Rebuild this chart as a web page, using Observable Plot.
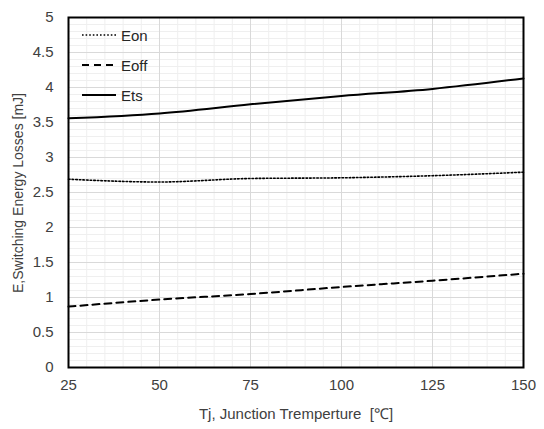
<!DOCTYPE html>
<html><head><meta charset="utf-8">
<script src="https://cdn.jsdelivr.net/npm/d3@7"></script>
<script src="https://cdn.jsdelivr.net/npm/@observablehq/plot@0.6"></script>
<style>
body{margin:0;background:#fff;font-family:"Liberation Sans",Arial,sans-serif}
#wrap{position:relative;width:544px;height:429px}
#legend{position:absolute;left:82px;top:20px;font-size:15px;color:#262626}
#legend .item{display:flex;align-items:center;height:30px}
#legend svg{margin-right:5px}
#ylabel{position:absolute;left:18px;top:193px;transform:translate(-50%,-50%) rotate(-90deg);white-space:nowrap;font-size:14px;color:#404040}
</style></head><body>
<div id="wrap"><div id="chart"></div><div id="legend"></div><div id="ylabel"></div></div>
<script>
const tj   = [25, 50, 75, 100, 125, 150];
const eon  = [2.69, 2.65, 2.70, 2.71, 2.74, 2.79];
const eoff = [0.87, 0.97, 1.05, 1.15, 1.24, 1.34];
const ets  = [3.56, 3.63, 3.76, 3.88, 3.98, 4.13];
const seriesNames = ["Eon", "Eoff", "Ets"];
const xTicks = [25, 50, 75, 100, 125, 150];
const yTicks = [0, 0.5, 1, 1.5, 2, 2.5, 3, 3.5, 4, 4.5, 5];
const xMinor = d3.range(25, 151, 5);
const yMinor = d3.range(0, 51).map(d => d / 10);
const xTitle = "Tj, Junction Tremperture  [℃]";
const yTitle = "E,Switching Energy Losses [mJ]";

const styles = {
  Eon:  {strokeWidth: 1.6, dash: "1.6,2"},
  Eoff: {strokeWidth: 2,   dash: "7,5"},
  Ets:  {strokeWidth: 2,   dash: null}
};
const values = {Eon: eon, Eoff: eoff, Ets: ets};
const rows = seriesNames.flatMap(s => tj.map((t, i) => ({s, t, v: values[s][i]})));

const lineMarks = seriesNames.map(s => Plot.line(rows.filter(r => r.s === s), {
  x: "t", y: "v", stroke: "#000", strokeWidth: styles[s].strokeWidth,
  strokeDasharray: styles[s].dash, curve: "monotone-x"
}));

const chart = Plot.plot({
  width: 544, height: 429,
  marginLeft: 68, marginRight: 21, marginTop: 17, marginBottom: 62,
  style: {fontFamily: "Liberation Sans, Arial, sans-serif", fontSize: "15px", color: "#404040", background: "#fff"},
  x: {domain: [25, 150], ticks: xTicks, tickSize: 0, tickPadding: 12, label: xTitle, labelArrow: "none", labelAnchor: "center", labelOffset: 51},
  y: {domain: [0, 5], ticks: yTicks, tickSize: 0, tickPadding: 15, label: null, tickFormat: d => String(d)},
  marks: [
    Plot.ruleX(xMinor, {stroke: "#efefef", strokeWidth: 1}),
    Plot.ruleY(yMinor, {stroke: "#efefef", strokeWidth: 1}),
    Plot.ruleX(xTicks, {stroke: "#d9d9d9", strokeWidth: 1}),
    Plot.ruleY(yTicks, {stroke: "#d9d9d9", strokeWidth: 1}),
    ...lineMarks,
    Plot.frame({stroke: "#000", strokeWidth: 2})
  ]
});
document.getElementById("chart").appendChild(chart);
document.getElementById("ylabel").textContent = yTitle;

const legend = document.getElementById("legend");
seriesNames.forEach(s => {
  const st = styles[s];
  const item = document.createElement("div");
  item.className = "item";
  item.innerHTML = `<svg width="34" height="4"><line x1="0" y1="2" x2="34" y2="2" stroke="#000" stroke-width="${st.strokeWidth}" ${st.dash ? `stroke-dasharray="${st.dash}"` : ""}/></svg><span>${s}</span>`;
  legend.appendChild(item);
});
</script>
</body></html>
